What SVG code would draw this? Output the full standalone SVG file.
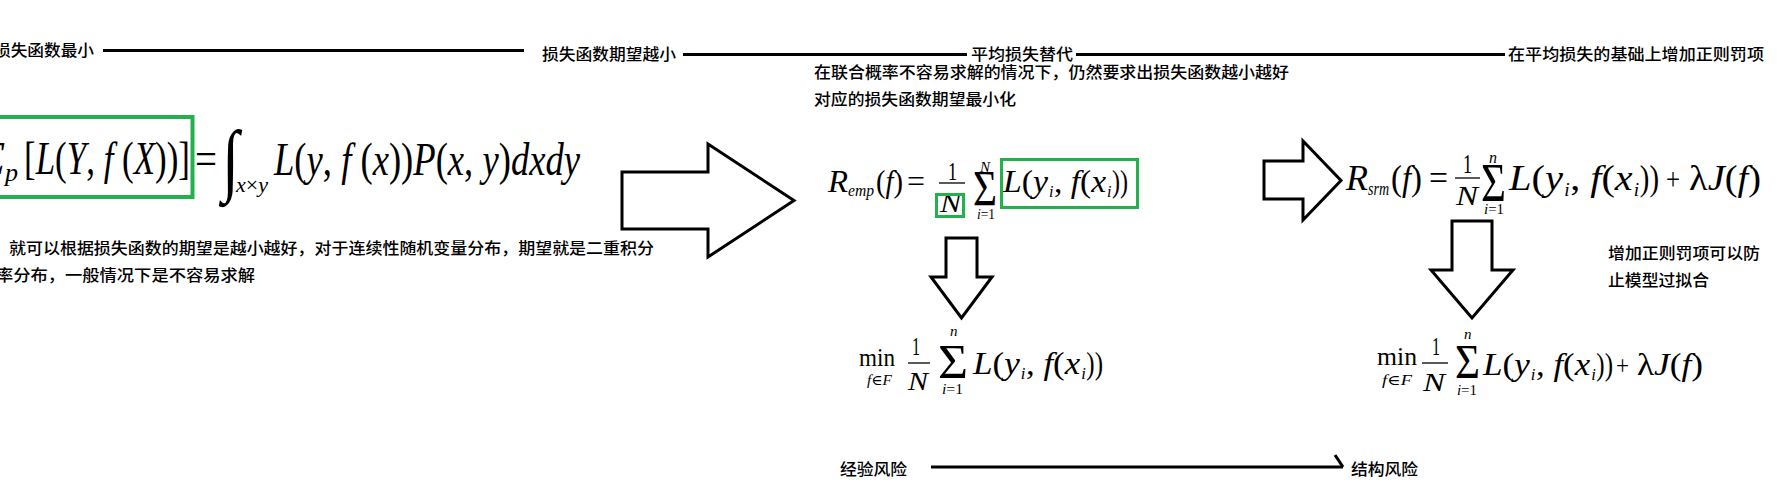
<svg xmlns="http://www.w3.org/2000/svg" width="1784" height="503" viewBox="0 0 1784 503">
<defs>
<style>
.cn{font-family:"Noto Sans CJK SC","Noto Sans",sans-serif;font-size:16px;font-weight:500;fill:#000}
.m{font-family:"Liberation Serif","DejaVu Serif",serif;fill:#000}
.it{font-style:italic}
.up{font-style:normal}
.ln{stroke:#000;stroke-width:3;fill:none}
.blk{stroke:#000;stroke-width:3;fill:#fff;stroke-linejoin:miter}
.gb{stroke:#22b14c;fill:none}
.bar{stroke:#000;stroke-width:1.3}
</style>
<g id="lyfx">
<text class="m it" x="0" y="0" font-size="32" textLength="45" lengthAdjust="spacingAndGlyphs">L<tspan class="up">(</tspan>y</text>
<text class="m it" x="46" y="5" font-size="16">i</text>
<text class="m it" x="51" y="0" font-size="32" textLength="52" lengthAdjust="spacingAndGlyphs"><tspan class="up">, </tspan>f<tspan class="up">(</tspan>x</text>
<text class="m it" x="104" y="5" font-size="16">i</text>
<text class="m" x="109" y="0" font-size="32" textLength="16" lengthAdjust="spacingAndGlyphs">))</text>
</g>
</defs>
<rect width="1784" height="503" fill="#fff"/>

<g id="connectors">
<line class="ln" x1="103" y1="50.5" x2="524" y2="50.5"/>
<line class="ln" x1="683" y1="54.5" x2="967" y2="54.5"/>
<line class="ln" x1="1076" y1="54.5" x2="1505" y2="54.5"/>
<polygon class="blk" points="622,172 708,172 708,144 794,200.5 708,257 708,229 622,229"/>
<polygon class="blk" points="1264,161 1303,161 1303,141 1341,180.5 1303,220 1303,199 1264,199"/>
<polygon class="blk" points="946,238 977,238 977,277 992,277 961.5,318 931,277 946,277"/>
<polygon class="blk" points="1452,221 1492,221 1492,270 1513,270 1472,318 1431,270 1452,270"/>
<line class="ln" x1="931" y1="467" x2="1343" y2="467"/>
<line class="ln" x1="1335" y1="455" x2="1343" y2="467"/>
</g>

<g id="n-min-loss"><text class="cn" x="-6" y="56" textLength="100" lengthAdjust="spacingAndGlyphs">损失函数最小</text></g>
<g id="n-expect-loss"><text class="cn" x="542" y="60" textLength="134" lengthAdjust="spacingAndGlyphs">损失函数期望越小</text></g>
<g id="n-avg-loss"><text class="cn" x="971" y="60" textLength="102" lengthAdjust="spacingAndGlyphs">平均损失替代</text></g>
<g id="n-reg"><text class="cn" x="1508" y="60" textLength="256" lengthAdjust="spacingAndGlyphs">在平均损失的基础上增加正则罚项</text></g>
<g id="n-note-avg">
<text class="cn" x="814" y="78" textLength="475" lengthAdjust="spacingAndGlyphs">在联合概率不容易求解的情况下，仍然要求出损失函数越小越好</text>
<text class="cn" x="814" y="105" textLength="202" lengthAdjust="spacingAndGlyphs">对应的损失函数期望最小化</text>
</g>
<g id="n-note-expect">
<text class="cn" x="9" y="254" textLength="645" lengthAdjust="spacingAndGlyphs">就可以根据损失函数的期望是越小越好，对于连续性随机变量分布，期望就是二重积分</text>
<text class="cn" x="-4" y="281" textLength="259" lengthAdjust="spacingAndGlyphs">率分布，一般情况下是不容易求解</text>
</g>
<g id="n-note-reg">
<text class="cn" x="1608" y="259" textLength="152" lengthAdjust="spacingAndGlyphs">增加正则罚项可以防</text>
<text class="cn" x="1608" y="286" textLength="101" lengthAdjust="spacingAndGlyphs">止模型过拟合</text>
</g>
<g id="n-emp"><text class="cn" x="840" y="475" textLength="67" lengthAdjust="spacingAndGlyphs">经验风险</text></g>
<g id="n-srm"><text class="cn" x="1351" y="475" textLength="67" lengthAdjust="spacingAndGlyphs">结构风险</text></g>

<g id="f-expect">
<text class="m it" x="-23" y="174" font-size="46">E</text>
<text class="m it" x="5" y="181" font-size="26">p</text>
<text class="m" x="24" y="174" font-size="46" textLength="166" lengthAdjust="spacingAndGlyphs">[<tspan class="it">L</tspan>(<tspan class="it">Y</tspan>, <tspan class="it">f</tspan> (<tspan class="it">X</tspan>))]</text>
<text class="m" x="195" y="174" font-size="46" textLength="22" lengthAdjust="spacingAndGlyphs">=</text>
<text class="m" x="222" y="186" font-size="80" textLength="17" lengthAdjust="spacingAndGlyphs">∫</text>
<text class="m it" x="236" y="192" font-size="22" textLength="32" lengthAdjust="spacingAndGlyphs">x<tspan class="up">×</tspan>y</text>
<text class="m it" x="274" y="175" font-size="46" textLength="306" lengthAdjust="spacingAndGlyphs">L<tspan class="up">(</tspan>y<tspan class="up">, </tspan>f<tspan class="up"> (</tspan>x<tspan class="up">))</tspan>P<tspan class="up">(</tspan>x<tspan class="up">, </tspan>y<tspan class="up">)</tspan>dxdy</text>
<rect class="gb" stroke-width="4" x="-10" y="117" width="202.5" height="80"/>
</g>

<g id="f-remp">
<text class="m it" x="828" y="192" font-size="32" textLength="20" lengthAdjust="spacingAndGlyphs">R</text>
<text class="m it" x="848" y="196" font-size="16" textLength="26" lengthAdjust="spacingAndGlyphs">emp</text>
<text class="m" x="876" y="192" font-size="32" textLength="27" lengthAdjust="spacingAndGlyphs">(<tspan class="it">f</tspan>)</text>
<text class="m" x="907" y="192" font-size="32" textLength="18" lengthAdjust="spacingAndGlyphs">=</text>
<text class="m" x="948" y="180" font-size="25" textLength="9" lengthAdjust="spacingAndGlyphs">1</text>
<line class="bar" x1="939" y1="183" x2="965" y2="183"/>
<text class="m it" x="940" y="212" font-size="25" textLength="21" lengthAdjust="spacingAndGlyphs">N</text>
<text class="m" x="973" y="205" font-size="50" textLength="24" lengthAdjust="spacingAndGlyphs">Σ</text>
<text class="m it" x="980" y="172" font-size="15">N</text>
<text class="m" x="977" y="219" font-size="14" textLength="18" lengthAdjust="spacingAndGlyphs"><tspan class="it">i</tspan>=1</text>
<use href="#lyfx" x="1003" y="192"/>
<rect class="gb" stroke-width="3" x="936.5" y="194.5" width="27" height="22"/>
<rect class="gb" stroke-width="3" x="1001.5" y="159.5" width="136" height="48"/>
</g>

<g id="f-min-emp">
<text class="m" x="859" y="366" font-size="26" textLength="36" lengthAdjust="spacingAndGlyphs">min</text>
<text class="m it" x="867" y="385" font-size="14" textLength="25" lengthAdjust="spacingAndGlyphs">f<tspan class="up">∈</tspan>F</text>
<text class="m" x="912" y="355" font-size="25" textLength="8" lengthAdjust="spacingAndGlyphs">1</text>
<line class="bar" x1="908" y1="363" x2="930" y2="363"/>
<text class="m it" x="908" y="390" font-size="25" textLength="20" lengthAdjust="spacingAndGlyphs">N</text>
<text class="m" x="938" y="378" font-size="48" textLength="30" lengthAdjust="spacingAndGlyphs">Σ</text>
<text class="m it" x="950" y="336" font-size="15">n</text>
<text class="m" x="942" y="394" font-size="14" textLength="21" lengthAdjust="spacingAndGlyphs"><tspan class="it">i</tspan>=1</text>
<use href="#lyfx" transform="translate(973,374) scale(1.04,1)"/>
</g>

<g id="f-rsrm">
<text class="m it" x="1346" y="190" font-size="36" textLength="22" lengthAdjust="spacingAndGlyphs">R</text>
<text class="m it" x="1368" y="195" font-size="18" textLength="21" lengthAdjust="spacingAndGlyphs">srm</text>
<text class="m" x="1391" y="190" font-size="36" textLength="31" lengthAdjust="spacingAndGlyphs">(<tspan class="it">f</tspan>)</text>
<text class="m" x="1429" y="190" font-size="36" textLength="19" lengthAdjust="spacingAndGlyphs">=</text>
<text class="m" x="1463" y="173" font-size="28" textLength="9" lengthAdjust="spacingAndGlyphs">1</text>
<line class="bar" x1="1455" y1="178" x2="1480" y2="178"/>
<text class="m it" x="1456" y="205" font-size="28" textLength="22" lengthAdjust="spacingAndGlyphs">N</text>
<text class="m" x="1481" y="201" font-size="54" textLength="25" lengthAdjust="spacingAndGlyphs">Σ</text>
<text class="m it" x="1489" y="163" font-size="16">n</text>
<text class="m" x="1484" y="214" font-size="15" textLength="20" lengthAdjust="spacingAndGlyphs"><tspan class="it">i</tspan>=1</text>
<use href="#lyfx" transform="translate(1509,190) scale(1.2,1.15)"/>
<text class="m" x="1666" y="190" font-size="32" textLength="14" lengthAdjust="spacingAndGlyphs">+</text>
<text class="m" x="1689" y="190" font-size="36" textLength="72" lengthAdjust="spacingAndGlyphs">λ<tspan class="it">J</tspan>(<tspan class="it">f</tspan>)</text>
</g>

<g id="f-min-srm">
<text class="m" x="1377" y="365" font-size="26" textLength="40" lengthAdjust="spacingAndGlyphs">min</text>
<text class="m it" x="1382" y="385" font-size="14" textLength="30" lengthAdjust="spacingAndGlyphs">f<tspan class="up">∈</tspan>F</text>
<text class="m" x="1432" y="355" font-size="25" textLength="8" lengthAdjust="spacingAndGlyphs">1</text>
<line class="bar" x1="1422" y1="363" x2="1448" y2="363"/>
<text class="m it" x="1423" y="391" font-size="25" textLength="22" lengthAdjust="spacingAndGlyphs">N</text>
<text class="m" x="1455" y="378" font-size="48" textLength="25" lengthAdjust="spacingAndGlyphs">Σ</text>
<text class="m it" x="1464" y="339" font-size="15">n</text>
<text class="m" x="1457" y="395" font-size="14" textLength="20" lengthAdjust="spacingAndGlyphs"><tspan class="it">i</tspan>=1</text>
<use href="#lyfx" transform="translate(1483,375) scale(1.04,1)"/>
<text class="m" x="1616" y="375" font-size="28" textLength="13" lengthAdjust="spacingAndGlyphs">+</text>
<text class="m" x="1637" y="375" font-size="32" textLength="66" lengthAdjust="spacingAndGlyphs">λ<tspan class="it">J</tspan>(<tspan class="it">f</tspan>)</text>
</g>
</svg>
